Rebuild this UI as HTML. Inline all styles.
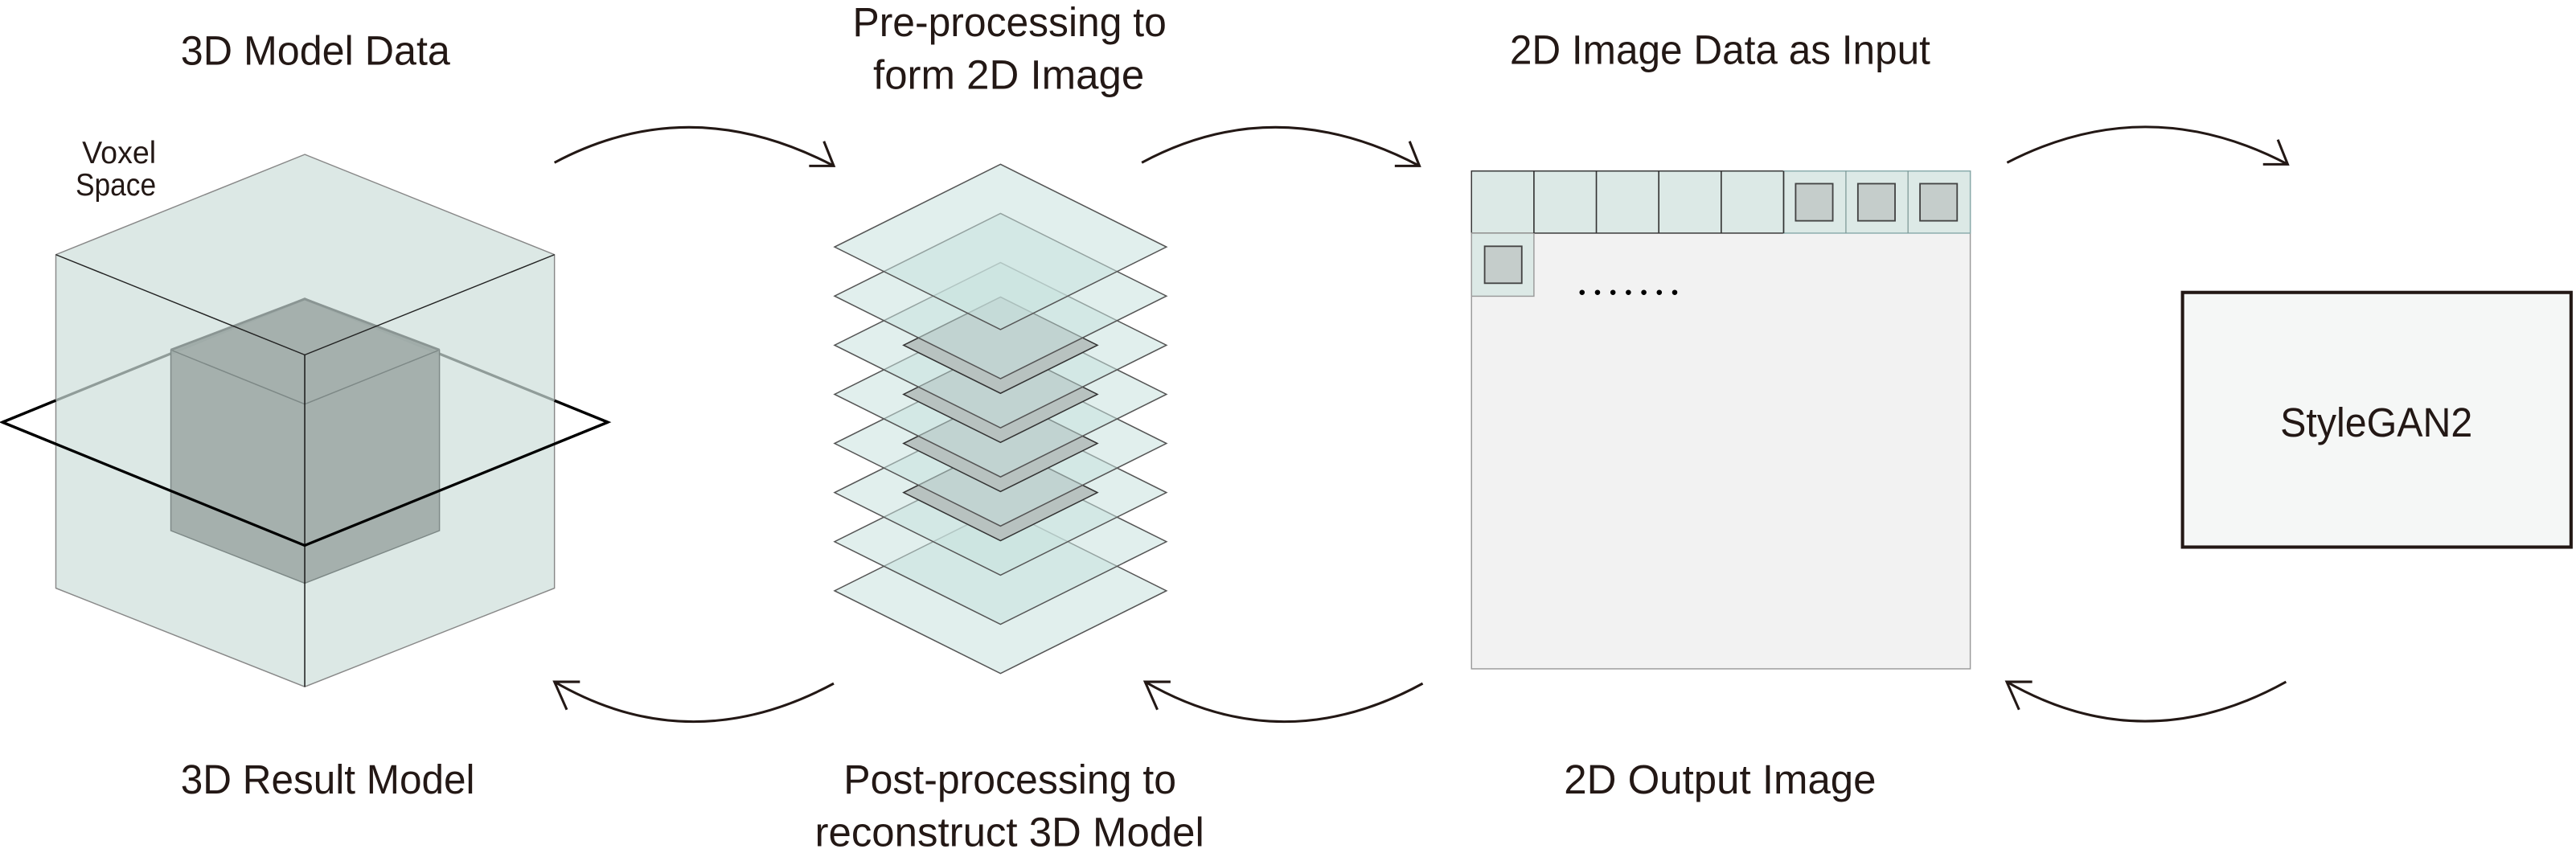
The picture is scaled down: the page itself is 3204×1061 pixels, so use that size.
<!DOCTYPE html>
<html><head><meta charset="utf-8"><style>
html,body{margin:0;padding:0;background:#fff;width:3204px;height:1061px;overflow:hidden}
svg{display:block}
text{font-family:"Liberation Sans Narrow","Liberation Sans",sans-serif;fill:#231815}
</style></head><body>
<svg width="3204" height="1061" viewBox="0 0 1568 519.2" preserveAspectRatio="none" xmlns="http://www.w3.org/2000/svg">
<!-- Titles -->
<g font-size="25">
<text x="110" y="39.3" textLength="164" lengthAdjust="spacingAndGlyphs">3D Model Data</text>
<text x="519" y="22" textLength="191" lengthAdjust="spacingAndGlyphs">Pre-processing to</text>
<text x="531.5" y="54" textLength="165" lengthAdjust="spacingAndGlyphs">form 2D Image</text>
<text x="919" y="39" textLength="256" lengthAdjust="spacingAndGlyphs">2D Image Data as Input</text>
<text x="110" y="483" textLength="179" lengthAdjust="spacingAndGlyphs">3D Result Model</text>
<text x="513.5" y="483" textLength="202.5" lengthAdjust="spacingAndGlyphs">Post-processing to</text>
<text x="496" y="515" textLength="237" lengthAdjust="spacingAndGlyphs">reconstruct 3D Model</text>
<text x="952" y="483" textLength="190" lengthAdjust="spacingAndGlyphs">2D Output Image</text>
</g>
<g font-size="19">
<text x="50" y="99.3" textLength="45" lengthAdjust="spacingAndGlyphs">Voxel</text>
<text x="46" y="119" textLength="49" lengthAdjust="spacingAndGlyphs">Space</text>
</g>

<!-- Cube -->
<polygon points="1.5,257 185.5,182 370,257 185.5,332" fill="none" stroke="#000" stroke-width="1.6"/>
<polygon points="185.5,94 337.5,155 337.5,358 185.5,418 34,358 34,155" fill="rgb(205,222,218)" fill-opacity="0.7" stroke="#888" stroke-width="0.7"/>
<polygon points="185.5,182 267.5,213 267.5,323 185.5,355 104,323 104,213" fill="#a1adaa" fill-opacity="0.95" stroke="#7d8886" stroke-width="0.7"/>
<polyline points="104,213 185.5,246 267.5,213" fill="none" stroke="#7d8886" stroke-width="0.7"/>
<polyline points="104,213 185.5,182 267.5,213" fill="none" stroke="#8a9593" stroke-width="1.4"/>
<polyline points="34,155 185.5,216 337.5,155" fill="none" stroke="#222" stroke-width="0.7"/>
<line x1="185.5" y1="216" x2="185.5" y2="418" stroke="#111" stroke-width="0.7"/>
<polyline points="1.5,257 185.5,332 370,257" fill="none" stroke="#000" stroke-width="1.6"/>
<line x1="1.5" y1="257" x2="34" y2="243.7" stroke="#000" stroke-width="1.6"/>
<line x1="370" y1="257" x2="337.5" y2="243.8" stroke="#000" stroke-width="1.6"/>

<!-- Layer stack -->
<g stroke-width="0.75">
<polygon points="609,309.3 710,359.6 609,409.9 508,359.6" fill="rgb(200,225,222)" fill-opacity="0.55" stroke="#555"/>
<polygon points="609,279.4 710,329.7 609,380 508,329.7" fill="rgb(200,225,222)" fill-opacity="0.55" stroke="#555"/>
<polygon points="609,249.5 710,299.8 609,350.1 508,299.8" fill="rgb(200,225,222)" fill-opacity="0.55" stroke="#555"/>
<polygon points="609,270.5 668,299.8 609,329.1 550,299.8" fill="#b8c2c0" stroke="#333"/>
<polygon points="609,219.6 710,269.9 609,320.2 508,269.9" fill="rgb(200,225,222)" fill-opacity="0.55" stroke="#555"/>
<polygon points="609,240.6 668,269.9 609,299.2 550,269.9" fill="#b8c2c0" stroke="#333"/>
<polygon points="609,189.7 710,240 609,290.3 508,240" fill="rgb(200,225,222)" fill-opacity="0.55" stroke="#555"/>
<polygon points="609,210.7 668,240 609,269.3 550,240" fill="#b8c2c0" stroke="#333"/>
<polygon points="609,159.8 710,210.1 609,260.4 508,210.1" fill="rgb(200,225,222)" fill-opacity="0.55" stroke="#555"/>
<polygon points="609,180.8 668,210.1 609,239.4 550,210.1" fill="#b8c2c0" stroke="#333"/>
<polygon points="609,129.9 710,180.2 609,230.5 508,180.2" fill="rgb(200,225,222)" fill-opacity="0.55" stroke="#555"/>
<polygon points="609,100 710,150.3 609,200.6 508,150.3" fill="rgb(200,225,222)" fill-opacity="0.55" stroke="#555"/>
</g>

<!-- 2D image grid -->
<rect x="895.7" y="104.1" width="303.6" height="303" fill="#f2f2f2" stroke="#999" stroke-width="0.7"/>
<g fill="#dce9e6" stroke-width="0.7">
<rect x="895.7" y="104.1" width="190" height="37.8" stroke="#333"/>
<rect x="1085.7" y="104.1" width="113.6" height="37.8" stroke="#8aa"/>
<rect x="895.7" y="141.9" width="38" height="38.4" stroke="#999"/>
</g>
<g stroke="#333" stroke-width="0.8">
<line x1="933.7" y1="104.1" x2="933.7" y2="141.9"/>
<line x1="971.7" y1="104.1" x2="971.7" y2="141.9"/>
<line x1="1009.7" y1="104.1" x2="1009.7" y2="141.9"/>
<line x1="1047.7" y1="104.1" x2="1047.7" y2="141.9"/>
<line x1="1085.7" y1="104.1" x2="1085.7" y2="141.9"/>
</g>
<g stroke="#7a9593" stroke-width="0.6">
<line x1="1123.6" y1="104.1" x2="1123.6" y2="141.9"/>
<line x1="1161.4" y1="104.1" x2="1161.4" y2="141.9"/>
</g>
<g fill="#c5cdcb" stroke="#444" stroke-width="0.9">
<rect x="1093" y="111.8" width="22.6" height="22.6"/>
<rect x="1130.9" y="111.8" width="22.6" height="22.6"/>
<rect x="1168.7" y="111.8" width="22.6" height="22.6"/>
<rect x="903.7" y="149.9" width="22.6" height="22.5"/>
</g>
<g fill="#000">
<circle cx="963" cy="178" r="1.6"/><circle cx="972.4" cy="178" r="1.6"/><circle cx="981.8" cy="178" r="1.6"/><circle cx="991.2" cy="178" r="1.6"/><circle cx="1000.6" cy="178" r="1.6"/><circle cx="1010" cy="178" r="1.6"/><circle cx="1019.4" cy="178" r="1.6"/>
</g>

<!-- StyleGAN2 box -->
<rect x="1328.5" y="178" width="236.5" height="155" fill="#f5f7f6" stroke="#231815" stroke-width="2"/>
<text x="1388" y="265.7" font-size="25" textLength="117" lengthAdjust="spacingAndGlyphs">StyleGAN2</text>

<!-- Arrows -->
<g fill="none" stroke="#231815" stroke-width="1.5">
<path d="M337.5,99 Q420,55 507.5,101"/><polyline points="492.5,101 507.5,101 501.5,86"/>
<path d="M695,99 Q777,55 864,101"/><polyline points="849,101 864,101 858,86"/>
<path d="M1221.7,99 Q1307,55 1392.5,100"/><polyline points="1377.5,100 1392.5,100 1386.5,85"/>
<path d="M507.5,416 Q420,463 337.5,415"/><polyline points="353,415 337.5,415 345,432"/>
<path d="M866,416 Q780,463 697,415"/><polyline points="712.5,415 697,415 704.5,432"/>
<path d="M1391.5,415 Q1305,463 1221.5,415"/><polyline points="1237,415 1221.5,415 1229,432"/>
</g>
</svg>
</body></html>
